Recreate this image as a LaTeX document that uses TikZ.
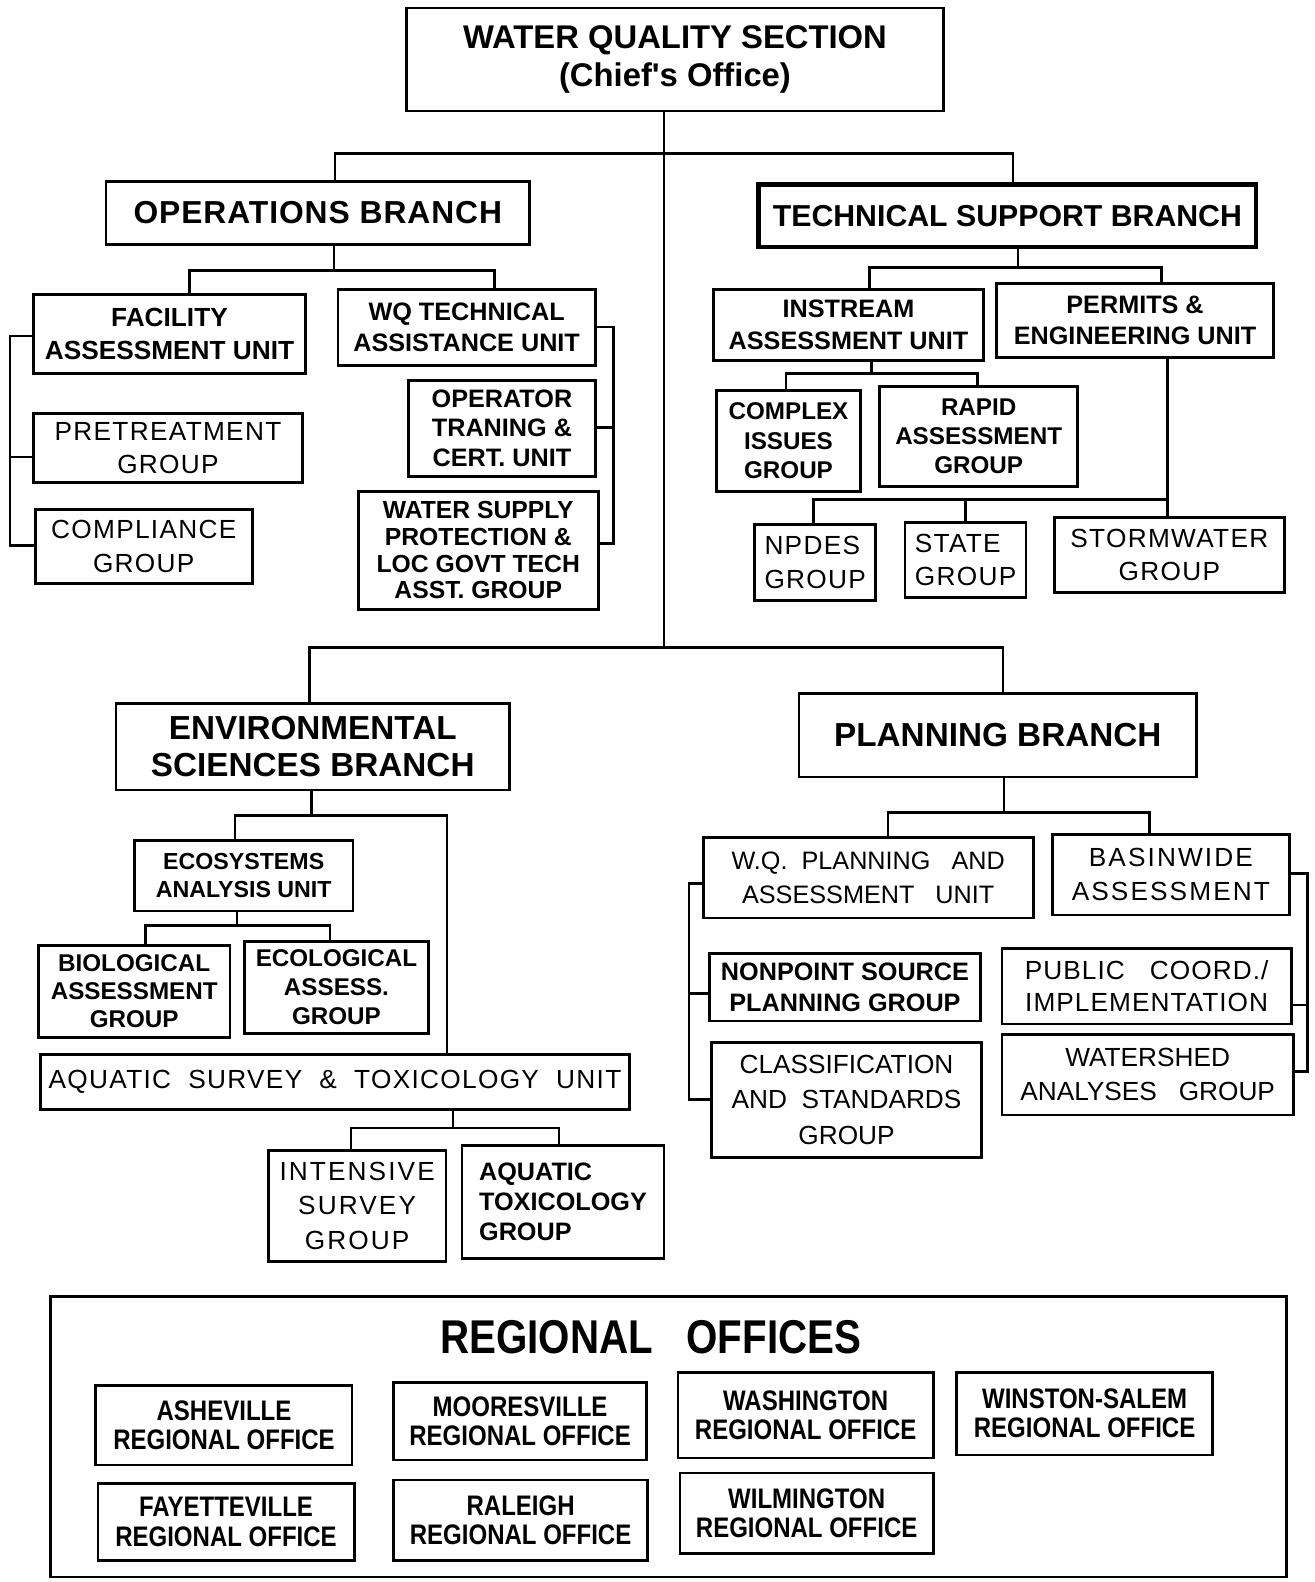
\documentclass[tikz,border=0pt]{standalone}
\usepackage{fontspec}
\setmainfont{Liberation Sans}
\newfontfamily\narrowf[FakeStretch=0.85]{Liberation Sans}
\newcommand\fs[2]{\fontsize{#1}{#2}\selectfont}
\tikzset{
  bx/.style={draw, line width=2.7pt, inner sep=0pt, align=center, font=\bfseries\fs{25}{30}},
  lt/.style={font=\mdseries\addfontfeature{LetterSpace=5}\fs{26}{33}},
  ro/.style={font=\narrowf\bfseries\fs{28}{29}},
  ln/.style={line width=2.7pt, line cap=rect},
}
\newcommand\mybox[7][]{\node[bx,minimum width={(#5-#3)*1pt},minimum height={(#6-#4)*1pt},#1] (#2) at ({(#3+#5)/2},{-(#4+#6)/2}) {#7};}
\begin{document}
\begin{tikzpicture}[x=1pt,y=1pt]
\useasboundingbox (0,0) rectangle (1303,-1568);
\fill[white] (0,0) rectangle (1303,-1568);
% top levels
\mybox[font=\bfseries\fs{32.5}{37}]{top}{403}{8}{935}{110}{WATER QUALITY SECTION\\(Chief\textquotesingle s Office)}
\mybox[font=\bfseries\addfontfeature{LetterSpace=3}\fs{31.5}{36}]{ops}{105}{180}{525}{242}{OPERATIONS BRANCH}
\mybox[line width=4.5pt,font=\bfseries\fs{30}{36}]{ts}{752}{183}{1245}{245}{TECHNICAL SUPPORT BRANCH}
% operations
\mybox[font=\bfseries\fs{26}{32}]{fac}{33}{292}{303}{370}{FACILITY\\ASSESSMENT UNIT}
\mybox[lt]{pre}{33}{410}{300}{478}{PRETREATMENT\\GROUP}
\mybox[lt]{comp}{35}{505}{250}{578}{COMPLIANCE\\GROUP}
\mybox{wqt}{335}{287}{590}{362}{WQ TECHNICAL\\ASSISTANCE UNIT}
\mybox[font=\bfseries\fs{25}{29.5}]{op}{405}{377}{590}{472}{OPERATOR\\TRANING \&\\CERT. UNIT}
\mybox[font=\bfseries\fs{24.5}{26.5}]{ws}{355}{487}{593}{604}{WATER SUPPLY\\PROTECTION \&\\LOC GOVT TECH\\ASST. GROUP}
% technical support
\mybox[font=\bfseries\fs{25}{31}]{ins}{707}{287}{975}{357}{INSTREAM\\ASSESSMENT UNIT}
\mybox{per}{988}{281}{1262}{354}{PERMITS \&\\ENGINEERING UNIT}
\mybox[font=\bfseries\fs{24}{29}]{cx}{710}{387}{853}{487}{COMPLEX\\ISSUES\\GROUP}
\mybox[font=\bfseries\fs{24}{29}]{ra}{872}{383}{1068}{482}{RAPID\\ASSESSMENT\\GROUP}
\mybox[lt,align=left]{np}{748}{520}{868}{595}{NPDES\\GROUP}
\mybox[lt,align=left]{st}{897}{518}{1017}{592}{STATE\\GROUP}
\mybox[lt]{sw}{1045}{513}{1273}{587}{STORMWATER\\GROUP}
% environmental sciences
\mybox[font=\bfseries\fs{33}{36}]{env}{115}{697}{505}{783}{ENVIRONMENTAL\\SCIENCES BRANCH}
\mybox[font=\bfseries\fs{23}{28}]{eco}{133}{833}{350}{903}{ECOSYSTEMS\\ANALYSIS UNIT}
\mybox[font=\bfseries\fs{24}{28}]{bio}{38}{937}{228}{1028}{BIOLOGICAL\\ASSESSMENT\\GROUP}
\mybox[font=\bfseries\fs{24}{29}]{ecl}{242}{933}{425}{1024}{ECOLOGICAL\\ASSESS.\\GROUP}
\mybox[lt]{as}{40}{1045}{624}{1100}{AQUATIC\ \ SURVEY\ \ \&\ \ TOXICOLOGY\ \ UNIT}
\mybox[lt,font=\mdseries\addfontfeature{LetterSpace=8}\fs{26}{34}]{int}{266}{1140}{442}{1250}{INTENSIVE\\SURVEY\\GROUP}
\mybox[align=left,font=\bfseries\fs{25}{30}]{atx}{458}{1135}{658}{1247}{AQUATIC\\TOXICOLOGY\\GROUP}
% planning
\mybox[font=\bfseries\fs{33}{36}]{plan}{792}{687}{1186}{770}{PLANNING BRANCH}
\mybox[lt,font=\mdseries\fs{25}{34}]{wqp}{697}{830}{1024}{910}{W.Q.\ \ PLANNING\ \ \ AND\\ASSESSMENT\ \ \ UNIT}
\mybox{nps}{703}{945}{972}{1012}{NONPOINT SOURCE\\PLANNING GROUP}
\mybox[lt,font=\mdseries\fs{26}{35}]{cls}{705}{1033}{973}{1147}{CLASSIFICATION\\AND\ \ STANDARDS\\GROUP}
\mybox[lt,font=\mdseries\addfontfeature{LetterSpace=8}\fs{26}{34}]{bas}{1043}{827}{1278}{907}{BASINWIDE\\ASSESSMENT}
\mybox[lt,font=\mdseries\addfontfeature{LetterSpace=4}\fs{26}{32}]{pub}{993}{940}{1280}{1015}{PUBLIC\ \ \ COORD./\\IMPLEMENTATION}
\mybox[lt,font=\mdseries\fs{26}{34}]{wsh}{993}{1025}{1282}{1105}{WATERSHED\\ANALYSES\ \ \ GROUP}
% regional offices
\mybox[]{reg}{50}{1285}{1275}{1563}{}
\node[font=\narrowf\bfseries\fs{47}{50}] (regt) at (645,-1325) {REGIONAL\ \ \ OFFICES};
\mybox[ro]{ash}{95}{1373}{349}{1452}{ASHEVILLE\\REGIONAL OFFICE}
\mybox[ro]{moo}{390}{1370}{641}{1447}{MOORESVILLE\\REGIONAL OFFICE}
\mybox[ro]{was}{672}{1360}{925}{1445}{WASHINGTON\\REGIONAL OFFICE}
\mybox[ro]{win}{948}{1360}{1202}{1442}{WINSTON-SALEM\\REGIONAL OFFICE}
\mybox[ro]{fay}{97}{1470}{351}{1547}{FAYETTEVILLE\\REGIONAL OFFICE}
\mybox[ro]{ral}{390}{1467}{642}{1547}{RALEIGH\\REGIONAL OFFICE}
\mybox[ro]{wil}{674}{1460}{925}{1540}{WILMINGTON\\REGIONAL OFFICE}
% connectors: trunk
\coordinate (trunk) at (658,-642);
\coordinate (opsJ) at (332,-152);
\coordinate (tsJ) at (1004,-152);
\coordinate (envJ) at (307,-642);
\coordinate (plJ) at (994,-642);
\draw[ln] (top.south -| trunk) -- (trunk);
\draw[ln] (ops.north -| opsJ) -- (opsJ) -- (tsJ) -- (ts.north -| tsJ);
\draw[ln] (env.north -| envJ) -- (envJ) -- (plJ) -- (plan.north -| plJ);
% operations
\coordinate (oJ) at (331,-268);
\coordinate (faJ) at (188,-268);
\coordinate (wqJ) at (490,-268);
\draw[ln] (ops.south -| oJ) -- (oJ);
\draw[ln] (fac.north -| faJ) -- (faJ) -- (wqJ) -- (wqt.north -| wqJ);
\coordinate (lb1) at (10,-333);
\coordinate (lb2) at (10,-453);
\coordinate (lb3) at (10,-541);
\draw[ln] (fac.west |- lb1) -- (lb1) -- (lb3) -- (comp.west |- lb3);
\draw[ln] (lb2) -- (pre.west |- lb2);
\coordinate (rb1) at (608,-324);
\coordinate (rb2) at (608,-424);
\coordinate (rb3) at (608,-539);
\draw[ln] (wqt.east |- rb1) -- (rb1) -- (rb3) -- (ws.east |- rb3);
\draw[ln] (rb2) -- (op.east |- rb2);
% technical support
\coordinate (tJ) at (1009,-265);
\coordinate (inJ) at (862,-265);
\coordinate (peJ) at (1151,-265);
\draw[ln] (ts.south -| tJ) -- (tJ);
\draw[ln] (ins.north -| inJ) -- (inJ) -- (peJ) -- (per.north -| peJ);
\coordinate (iJ) at (864,-370);
\coordinate (cxJ) at (779,-370);
\coordinate (raJ) at (969,-370);
\draw[ln] (ins.south -| iJ) -- (iJ);
\draw[ln] (cx.north -| cxJ) -- (cxJ) -- (raJ) -- (ra.north -| raJ);
\coordinate (pJ) at (1157,-495);
\coordinate (npJ) at (806,-495);
\coordinate (stJ) at (957,-495);
\draw[ln] (per.south -| pJ) -- (sw.north -| pJ);
\draw[ln] (np.north -| npJ) -- (npJ) -- (pJ);
\draw[ln] (stJ) -- (st.north -| stJ);
% environmental
\coordinate (eJ) at (309,-808);
\coordinate (ecJ) at (233,-808);
\coordinate (asJ) at (443,-808);
\draw[ln] (env.south -| eJ) -- (eJ);
\draw[ln] (eco.north -| ecJ) -- (ecJ) -- (asJ) -- (as.north -| asJ);
\coordinate (e2J) at (235,-917);
\coordinate (biJ) at (144,-917);
\coordinate (elJ) at (327,-917);
\draw[ln] (eco.south -| e2J) -- (e2J);
\draw[ln] (bio.north -| biJ) -- (biJ) -- (elJ) -- (ecl.north -| elJ);
\coordinate (aJ) at (449,-1118);
\coordinate (inJ2) at (348,-1118);
\coordinate (atJ) at (554,-1118);
\draw[ln] (as.south -| aJ) -- (aJ);
\draw[ln] (int.north -| inJ2) -- (inJ2) -- (atJ) -- (atx.north -| atJ);
% planning
\coordinate (plJ2) at (995,-805);
\coordinate (wqpJ) at (880,-805);
\coordinate (basJ) at (1139,-805);
\draw[ln] (plan.south -| plJ2) -- (plJ2);
\draw[ln] (wqp.north -| wqpJ) -- (wqpJ) -- (basJ) -- (bas.north -| basJ);
\coordinate (pl1) at (683,-876);
\coordinate (pl2) at (683,-985);
\coordinate (pl3) at (683,-1090);
\draw[ln] (wqp.west |- pl1) -- (pl1) -- (pl3) -- (cls.west |- pl3);
\draw[ln] (pl2) -- (nps.west |- pl2);
\coordinate (pr1) at (1296,-866);
\coordinate (pr2) at (1296,-996);
\coordinate (pr3) at (1296,-1062);
\draw[ln] (bas.east |- pr1) -- (pr1) -- (pr3) -- (wsh.east |- pr3);
\draw[ln] (pr2) -- (pub.east |- pr2);
\end{tikzpicture}
\end{document}
